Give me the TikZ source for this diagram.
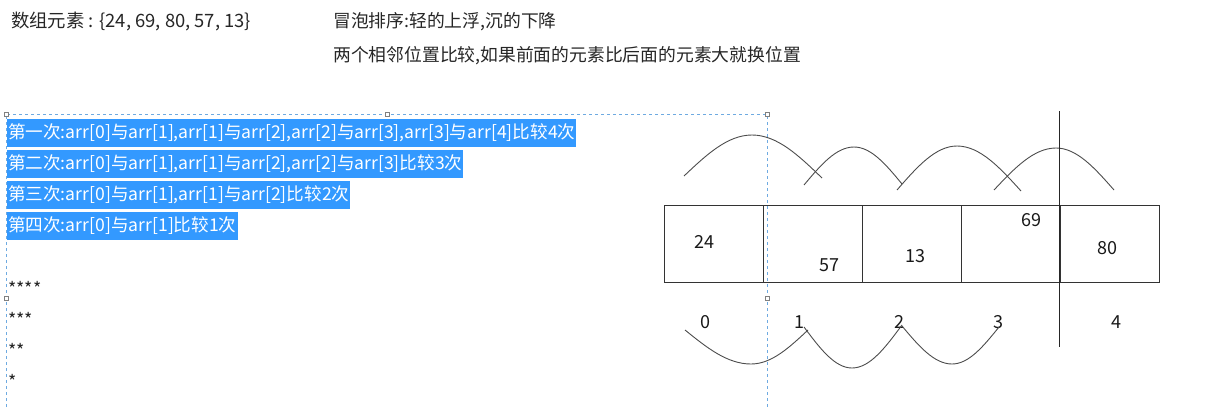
\documentclass[tikz,border=0pt]{standalone}
\usepackage{fontspec}
\setmainfont{Noto Sans CJK SC}
\usepackage{xcolor}
\usepackage{tikz}
\usetikzlibrary{positioning}
\definecolor{selblue}{RGB}{51,153,255}
\definecolor{dashblue}{RGB}{110,170,225}
\tikzset{
  plaintext/.style={anchor=west, inner sep=0pt, font=\fontsize{17.8}{20}\selectfont, text=black!85},
  passrow/.style={anchor=west, fill=selblue, text=white, inner xsep=1pt, inner ysep=0pt, minimum height=28pt, font=\fontsize{17.6}{20}\selectfont},
  cellnode/.style={draw=black!80, line width=1pt, minimum width=99pt, minimum height=77pt, inner sep=0pt, outer sep=0pt},
  numlabel/.style={inner sep=0pt, font=\fontsize{18}{20}\selectfont, text=black!90},
  wave/.style={draw=black!70, line width=0.9pt},
  selbox/.style={draw=dashblue, dashed, line width=0.8pt},
  handle/.style={draw=gray, fill=white, minimum size=4pt, inner sep=0pt}
}

\begin{document}
\begin{tikzpicture}[x=1pt, y=-1pt]
\useasboundingbox (0,0) rectangle (1223,407);

% Header text
\node[plaintext, font=\fontsize{18.4}{20}\selectfont] (title) at (11,22) {数组元素 : \{24, 69, 80, 57, 13\}};
\node[plaintext] (rule) at (333,22) {冒泡排序:轻的上浮,沉的下降};
\node[plaintext] (how) at (333,56) {两个相邻位置比较,如果前面的元素比后面的元素大就换位置};

% Passes (selected)
\node[passrow] (r1) at (7,133) {第一次:arr[0]与arr[1],arr[1]与arr[2],arr[2]与arr[3],arr[3]与arr[4]比较4次};
\node[passrow] (r2) at (7,164) {第二次:arr[0]与arr[1],arr[1]与arr[2],arr[2]与arr[3]比较3次};
\node[passrow] (r3) at (7,195) {第三次:arr[0]与arr[1],arr[1]与arr[2]比较2次};
\node[passrow] (r4) at (7,226) {第四次:arr[0]与arr[1]比较1次};

% Stars
\node[plaintext] (s4) at (8,288) {****};
\node[plaintext] (s3) at (8,319) {***};
\node[plaintext] (s2) at (8,350) {**};
\node[plaintext] (s1) at (8,381) {*};

% Selection frame
\draw[selbox] (6,407) -- (6,114) -- (767,114) -- (767,407);
\foreach \p [count=\k] in {(6,114),(387,114),(767,114),(6,298),(767,298)}
  \node[handle] (h\k) at \p {};

% Array cells
\node[cellnode, anchor=north west] (c0) at (664,205) {};
\foreach \i [count=\j from 0] in {1,...,4}
  \node[cellnode, right=0pt of c\j] (c\i) {};

% Values
\node[numlabel] (v24) at (704,242) {24};
\node[numlabel] (v57) at (829,265) {57};
\node[numlabel] (v13) at (915,256) {13};
\node[numlabel] (v69) at (1031,220) {69};
\node[numlabel] (v80) at (1107,248) {80};

% Indices
\foreach \x/\n in {705/0,799/1,899/2,998/3,1116/4}
  \node[numlabel] (i\n) at (\x,322) {\n};

% Upper arcs
\draw[wave] (684,176) sin (752,135) cos (822,178);
\draw[wave] (804,185) sin (854,147) cos (902,184);
\draw[wave] (897,190) sin (957,146) cos (1021,191);
\draw[wave] (994,190) sin (1056,148) cos (1114,190);

% Lower arcs
\draw[wave] (685,330) sin (751,364) cos (808,330);
\draw[wave] (804,327) sin (852,368) cos (902,325);
\draw[wave] (902,326) sin (952,364) cos (999,327);

% Sorted boundary
\draw[draw=black!85, line width=1pt] (1059,111) -- (1059,347);

\end{tikzpicture}
\end{document}
